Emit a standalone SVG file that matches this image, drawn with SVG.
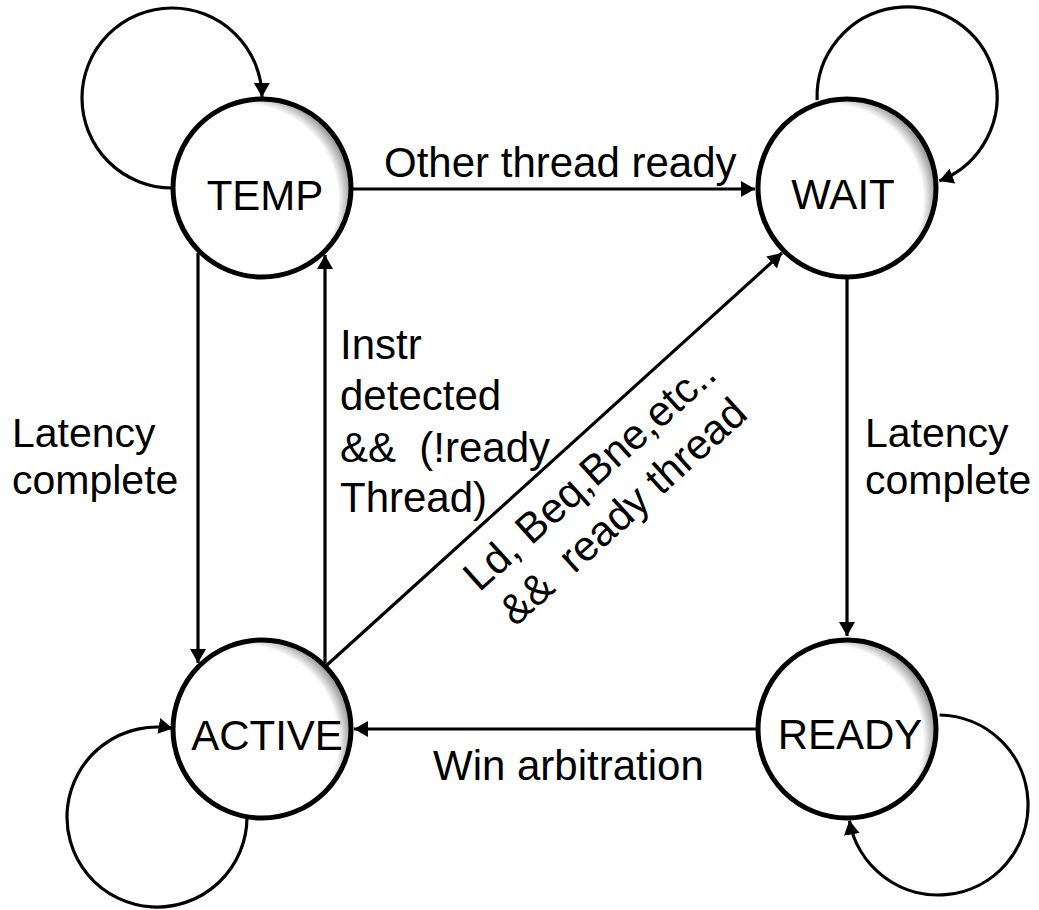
<svg xmlns="http://www.w3.org/2000/svg" width="1039" height="910" viewBox="0 0 1039 910">
  <defs>
    <radialGradient id="shade" cx="0.4" cy="0.56" r="0.6">
      <stop offset="0" stop-color="#ffffff"/>
      <stop offset="0.88" stop-color="#ffffff"/>
      <stop offset="1" stop-color="#9a9a9a"/>
    </radialGradient>
    <marker id="arrow" viewBox="0 0 14 16" refX="14" refY="8" markerWidth="14" markerHeight="16" markerUnits="userSpaceOnUse" orient="auto">
      <path d="M0,0 L14,8 L0,16 z" fill="#000"/>
    </marker>
    <style>
      .state { fill: url(#shade); stroke: #000; stroke-width: 5; }
      .name { font-family: "Liberation Sans", Arial, sans-serif; font-size: 42px; fill: #000; text-anchor: middle; }
      .lbl { font-family: "Liberation Sans", Arial, sans-serif; font-size: 42px; fill: #000; white-space: pre; }
      .lat { font-size: 41px; }
      .edge { fill: none; stroke: #000; stroke-width: 3.2; marker-end: url(#arrow); }
    </style>
  </defs>
  <rect width="1039" height="910" fill="#fff"/>

  <g id="connectors">
    <path class="edge" d="M172,188 A90,90 0 1 1 262,97"/>
    <path class="edge" d="M817.1,100.1 A90,90 0 1 1 939.3,181"/>
    <path class="edge" d="M247,817 A90,90 0 1 1 172.6,728.4"/>
    <path class="edge" d="M939.6,715 A90,90 0 1 1 849.4,820.6"/>
    <path class="edge" d="M353,189 L755,189"/>
    <path class="edge" d="M198,253 L198,663"/>
    <path class="edge" d="M325,663 L325,255"/>
    <path class="edge" d="M327,665 L782,253"/>
    <path class="edge" d="M847,279 L847,636"/>
    <path class="edge" d="M756,729 L354,729"/>
    <text class="lbl" x="384" y="177">Other thread ready</text>
    <text class="lbl lat" x="12" y="447">Latency</text>
    <text class="lbl lat" x="12" y="494">complete</text>
    <text class="lbl lat" x="865" y="447">Latency</text>
    <text class="lbl lat" x="865" y="494">complete</text>
    <text class="lbl" x="340" y="359">Instr<tspan x="340" dy="51">detected</tspan><tspan x="340" dy="52">&amp;&amp;  (!ready</tspan><tspan x="340" dy="50">Thread)</tspan></text>
    <text class="lbl" x="433" y="780">Win arbitration</text>
    <g transform="translate(599,485) rotate(-42)">
      <text class="lbl" x="0" y="0" text-anchor="middle">Ld, Beq,Bne,etc..<tspan x="0" dy="50">&amp;&amp;  ready thread</tspan></text>
    </g>
  </g>

  <g id="node-temp">
    <circle class="state" cx="262" cy="188" r="89"/>
    <text class="name" x="265" y="210">TEMP</text>
  </g>
  <g id="node-wait">
    <circle class="state" cx="847" cy="188" r="89"/>
    <text class="name" x="843" y="209">WAIT</text>
  </g>
  <g id="node-active">
    <circle class="state" cx="262" cy="729" r="89"/>
    <text class="name" x="267" y="750">ACTIVE</text>
  </g>
  <g id="node-ready">
    <circle class="state" cx="847" cy="729" r="89"/>
    <text class="name" x="850" y="749">READY</text>
  </g>
</svg>
